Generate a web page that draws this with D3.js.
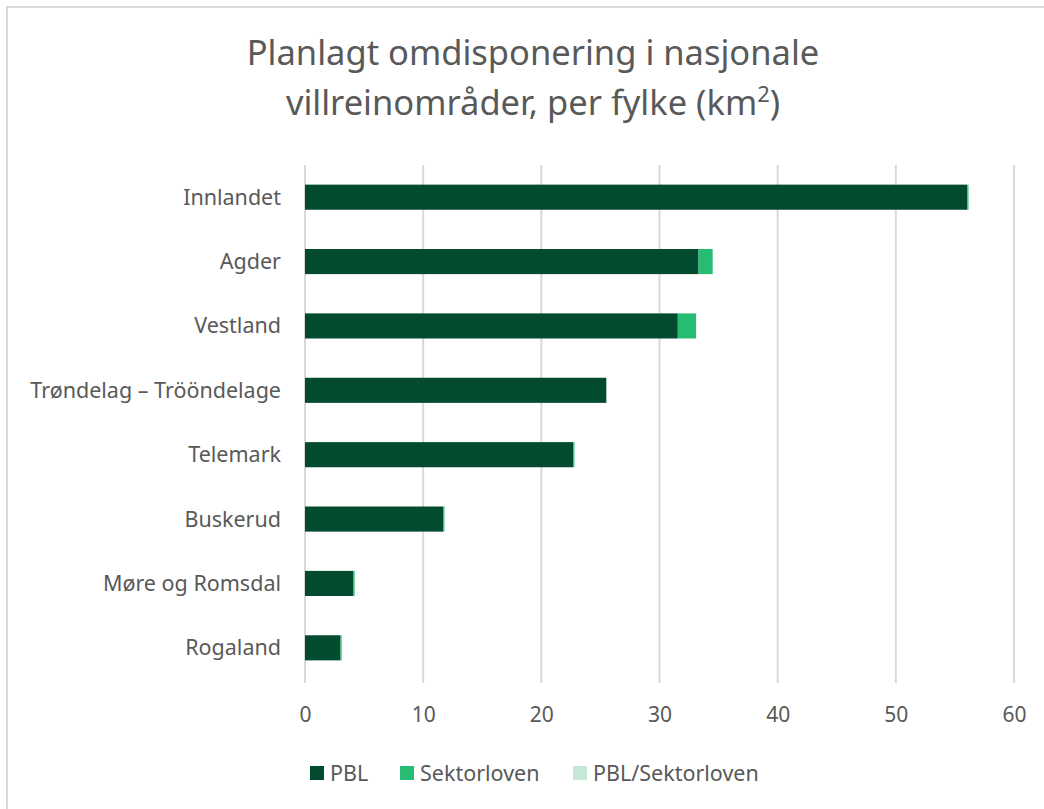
<!DOCTYPE html>
<html>
<head>
<meta charset="utf-8">
<script src="https://cdn.jsdelivr.net/npm/d3@7"></script>
<style>
  body { margin: 0; background: #fff; }
  svg text { font-family: "Noto Sans", "Open Sans", sans-serif; fill: #595959; }
</style>
</head>
<body>
<div id="chart"></div>
<script>
// Data
const categories = ["Innlandet", "Agder", "Vestland", "Trøndelag – Trööndelage",
    "Telemark", "Buskerud", "Møre og Romsdal", "Rogaland"];
const seriesNames = ["PBL", "Sektorloven", "PBL/Sektorloven"];
const pbl = [56.05, 33.3, 31.55, 25.5, 22.7, 11.7, 4.1, 3.0];
const sektorloven = [0.1, 1.2, 1.55, 0, 0.1, 0.1, 0.1, 0.1];
const pblSektor = [0, 0, 0, 0, 0, 0, 0, 0];
const xTicks = [0, 10, 20, 30, 40, 50, 60];
const colors = ["#024b2e", "#26bd73", "#c5e8d6"];

const width = 1044, height = 809;
const margin = {top: 165, right: 30, bottom: 129, left: 305};

const svg = d3.select("#chart").append("svg")
    .attr("width", width)
    .attr("height", height);

// Outer border
svg.append("rect")
    .attr("x", 7).attr("y", 7)
    .attr("width", width + 10).attr("height", height + 10)
    .attr("fill", "#fff")
    .attr("stroke", "#d9d9d9")
    .attr("stroke-width", 2);

// Title
const title = svg.append("text")
    .attr("text-anchor", "middle")
    .style("font-size", "34.5px");
title.append("tspan").attr("x", 533).attr("y", 65).text("Planlagt omdisponering i nasjonale");
const l2 = title.append("tspan").attr("x", 533).attr("y", 115).text("villreinområder, per fylke (km");
l2.append("tspan").attr("dy", -13).style("font-size", "22px").text("2");
l2.append("tspan").attr("dy", 13).text(")");

const x = d3.scaleLinear()
    .domain([0, 60])
    .range([margin.left, width - margin.right]);

const y = d3.scaleBand()
    .domain(categories)
    .range([margin.top, height - margin.bottom])
    .paddingInner(0.61)
    .paddingOuter(0.305);

// Gridlines
svg.append("g")
    .selectAll("line")
    .data(xTicks)
    .join("line")
    .attr("x1", d => x(d)).attr("x2", d => x(d))
    .attr("y1", margin.top).attr("y2", height - margin.bottom + 3)
    .attr("stroke", "#d9d9d9")
    .attr("stroke-width", 2);

// Stacked bars
const rows = categories.map((c, i) => ({cat: c, PBL: pbl[i], Sektorloven: sektorloven[i], "PBL/Sektorloven": pblSektor[i]}));
const stack = d3.stack().keys(seriesNames)(rows);

svg.append("g")
    .selectAll("g")
    .data(stack)
    .join("g")
    .attr("fill", (d, i) => colors[i])
    .selectAll("rect")
    .data(d => d)
    .join("rect")
    .attr("x", d => x(d[0]))
    .attr("y", d => y(d.data.cat))
    .attr("width", d => x(d[1]) - x(d[0]))
    .attr("height", y.bandwidth());

// Category labels
svg.append("g")
    .selectAll("text")
    .data(categories)
    .join("text")
    .attr("x", 281)
    .attr("y", d => y(d) + y.bandwidth() / 2)
    .attr("dy", "0.35em")
    .attr("text-anchor", "end")
    .style("font-size", "21.5px")
    .text(d => d);

// X axis
const xAxis = svg.append("g")
    .attr("transform", `translate(0,${height - margin.bottom})`)
    .call(d3.axisBottom(x).tickValues(xTicks).tickSize(0).tickPadding(27));
xAxis.select(".domain").remove();
xAxis.selectAll("text")
    .style("font-size", "21px")
    .style("font-family", null);

// Legend
const legendX = [310, 400, 573];
const legend = svg.append("g")
    .selectAll("g")
    .data(seriesNames)
    .join("g")
    .attr("transform", (d, i) => `translate(${legendX[i]},766)`);
legend.append("rect")
    .attr("width", 14).attr("height", 14)
    .attr("fill", (d, i) => colors[i]);
legend.append("text")
    .attr("x", 20).attr("y", 7)
    .attr("dy", "0.35em")
    .style("font-size", "21.5px")
    .text(d => d);
</script>
</body>
</html>
